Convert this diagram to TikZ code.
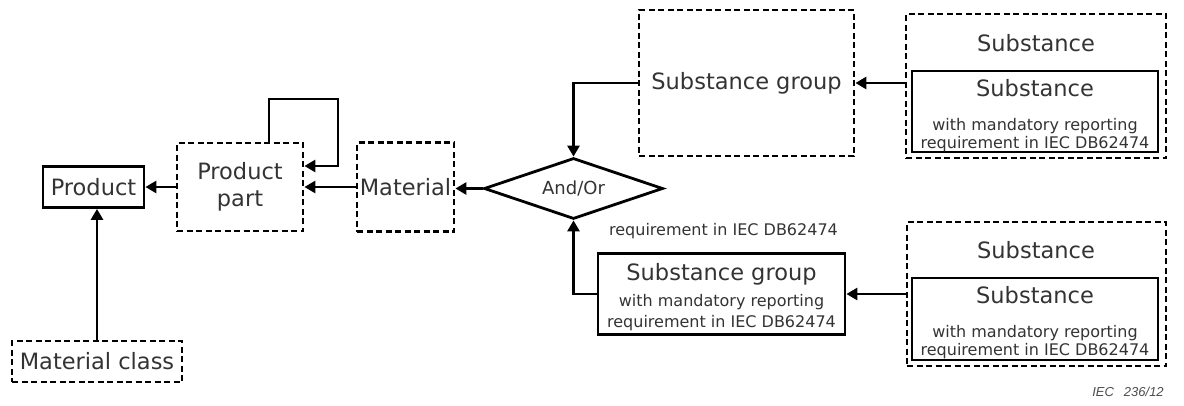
\documentclass[tikz,border=0pt]{standalone}
\usepackage{fontspec}
\setmainfont{DejaVu Sans}
\newfontfamily\footfont{Liberation Sans}
\usetikzlibrary{arrows.meta, shapes.geometric}

\begin{document}
\begin{tikzpicture} [x=1pt, y=-1pt,
			every node/.style={text=black!80, inner sep=0pt},
			big/.style={font=\fontsize{22.5}{27}\selectfont},
			small/.style={font=\fontsize{16}{18}\selectfont, align=center},
			box/.style={draw, line width=2.8pt, rectangle, align=center},
			dbox/.style={box, dash pattern=on 6pt off 3.5pt},
			link/.style={line width=2.8pt, -{Triangle[length=11pt, width=12pt]}},
		]
		\useasboundingbox (0,0) rectangle (1184,405);

		% Product side
		\node (product) [box, big,
			minimum width=101pt, minimum height=41pt] at (93.5,187) {Product};
		\node (ppart) [dbox, big,
			minimum width=126pt, minimum height=88pt] at (240,187) {Product\\part};
		\node (mclass) [dbox, big,
			minimum width=170pt, minimum height=41pt] at (97,361.5) {Material class};
		\node (material) [dbox, big,
			minimum width=97pt, minimum height=89pt] at (405.5,187) {Material};
		\coordinate (loop) at (338,99);
		% And/Or
		\node (andor) [diamond, draw, line width=2.8pt,
			aspect=2.93, minimum width=179pt, minimum height=61pt,
			font=\fontsize{18}{22}\selectfont] at (573.5,188.5) {And/Or};
		% Substance groups
		\node (sgtop) [dbox, big,
			minimum width=215pt, minimum height=146pt] at (746.5,83) {Substance group};
		\node (sgbot) [box,
			minimum width=247pt, minimum height=81pt] at (721.5,294) {};
		\node (sgbottext) [small] at ([yshift=-3pt]sgbot.center)
			{{\fontsize{22.5}{27}\selectfont Substance group}\\[8pt]
			with mandatory reporting\\[3pt]
			requirement in IEC DB62474};
		\node (reqtext) [small] at (723.5,231) {requirement in IEC DB62474};
		% Substances
		\node (subA) [dbox,
			minimum width=260pt, minimum height=144pt] at (1036,86) {};
		\node (subAhead) [big] at (1036,43) {Substance};
		\node (subAin) [box,
			minimum width=246pt, minimum height=81pt] at (1035,111.5) {};
		\node (subAtext) [small] at ([yshift=-4pt]subAin.center)
			{{\fontsize{22.5}{27}\selectfont Substance}\\[16pt]
			with mandatory reporting\\
			requirement in IEC DB62474};
		\node (subB) [dbox,
			minimum width=259pt, minimum height=144pt] at (1036.5,294) {};
		\node (subBhead) [big] at (1036,250) {Substance};
		\node (subBin) [box,
			minimum width=246pt, minimum height=82pt] at (1035,319) {};
		\node (subBtext) [small] at ([yshift=-4pt]subBin.center)
			{{\fontsize{22.5}{27}\selectfont Substance}\\[16pt]
			with mandatory reporting\\
			requirement in IEC DB62474};
		% Footer
		\node (ieclabel) [font=\footfont\itshape\fontsize{13}{16}\selectfont,
			text=black!70] at (1128,392) {IEC\hspace{10pt}236/12};

		% Arrows
		\draw [link] (ppart.west) -- (ppart.west -| product.east);
		\draw [link] (material.west) -- (material.west -| ppart.east);
		\draw [link] (andor.west) -- (andor.west -| material.east);
		\draw [link] (mclass.north) -- (mclass.north |- product.south);
		\draw [link] ([xshift=29pt]ppart.north) |- (loop) |- ([yshift=21pt]ppart.east);
		\draw [link] (sgtop.west) -| (andor.north);
		\draw [link] (sgbot.west) -| (andor.south);
		\draw [link] (sgtop.east -| subA.west) -- (sgtop.east);
		\draw [link] (sgbot.east -| subB.west) -- (sgbot.east);
	\end{tikzpicture}
\end{document}
